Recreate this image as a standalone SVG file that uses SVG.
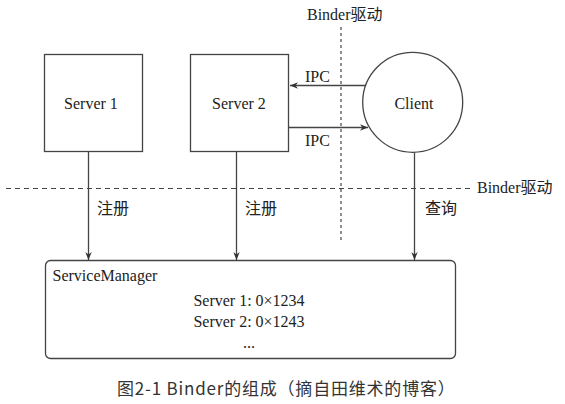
<svg xmlns="http://www.w3.org/2000/svg" width="565" height="404" viewBox="0 0 565 404">
<style>
.box{fill:#fff;stroke:#444;stroke-width:1.3}
.ln{stroke:#444;stroke-width:1.3;fill:none}
.t{font-family:"Liberation Serif","Noto Sans CJK SC",serif;font-size:16px;fill:#222}
.cap{font-family:"Noto Sans CJK SC","Noto Sans",sans-serif;font-size:17px;fill:#333;letter-spacing:0.8px}
</style>
<defs>
<marker id="ah" viewBox="0 0 10 8" refX="10" refY="4" markerWidth="8" markerHeight="6.4" markerUnits="userSpaceOnUse" orient="auto">
<path d="M0,0 L10,4 L0,8 L3,4 Z" fill="#333"/>
</marker>
</defs>
<rect width="565" height="404" fill="#fff"/>
<g id="boundaries">
<line x1="6" y1="188.5" x2="473" y2="188.5" stroke="#444" stroke-width="1.2" stroke-dasharray="5,4"/>
<text class="t" x="477" y="193">Binder驱动</text>
<line x1="341" y1="27" x2="341" y2="240" stroke="#555" stroke-width="1.3" stroke-dasharray="3,3"/>
<text class="t" x="307" y="20">Binder驱动</text>
</g>
<g id="server1">
<rect class="box" x="44.5" y="54.5" width="98" height="97"/>
<text class="t" x="91" y="109" text-anchor="middle">Server 1</text>
</g>
<g id="server2">
<rect class="box" x="190.5" y="54.5" width="98" height="97"/>
<text class="t" x="239" y="109" text-anchor="middle">Server 2</text>
</g>
<g id="client">
<circle class="box" cx="412.7" cy="102.3" r="50"/>
<text class="t" x="414" y="109" text-anchor="middle">Client</text>
</g>
<g id="servicemanager">
<rect class="box" x="45.5" y="260.5" width="410" height="98" rx="5"/>
<text class="t" x="52.5" y="281">ServiceManager</text>
<text class="t" x="249" y="306" text-anchor="middle">Server 1: 0×1234</text>
<text class="t" x="249" y="327" text-anchor="middle">Server 2: 0×1243</text>
<text class="t" x="249" y="348" text-anchor="middle">...</text>
</g>
<g id="connectors">
<line class="ln" x1="365" y1="85.5" x2="290" y2="85.5" marker-end="url(#ah)"/>
<text class="t" x="305" y="82">IPC</text>
<line class="ln" x1="288.5" y1="127.5" x2="368" y2="127.5" marker-end="url(#ah)"/>
<text class="t" x="305" y="146">IPC</text>
<line class="ln" x1="88.5" y1="152" x2="88.5" y2="260" marker-end="url(#ah)"/>
<text class="t" x="97" y="214">注册</text>
<line class="ln" x1="236.5" y1="152" x2="236.5" y2="260" marker-end="url(#ah)"/>
<text class="t" x="245" y="214">注册</text>
<line class="ln" x1="414.5" y1="152.5" x2="414.5" y2="260" marker-end="url(#ah)"/>
<text class="t" x="425" y="214">查询</text>
</g>
<text class="cap" x="117" y="395">图2-1 Binder的组成（摘自田维术的博客）</text>
</svg>
